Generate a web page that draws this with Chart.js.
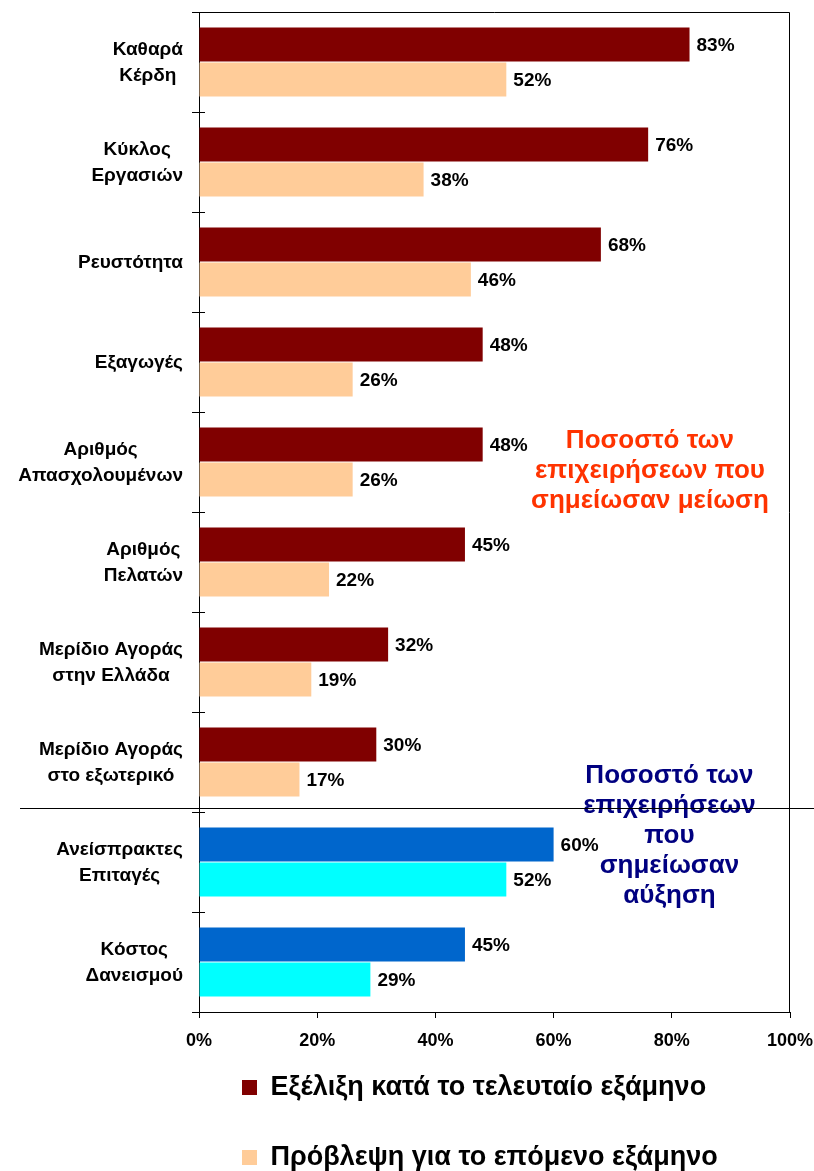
<!DOCTYPE html>
<html>
<head>
<meta charset="utf-8">
<script src="https://cdn.jsdelivr.net/npm/chart.js@4.4.1/dist/chart.umd.min.js"></script>
<style>
    html, body { margin: 0; padding: 0; background: #fff; overflow: hidden; }
    #wrap { width: 814px; height: 1171px; overflow: hidden; }
</style>
</head>
<body>
<div id="wrap"><canvas id="chart" width="814" height="1181"></canvas></div>
<script>
// chart data
const categories = [
    ['Καθαρά', 'Κέρδη'],
    ['Κύκλος', 'Εργασιών'],
    ['Ρευστότητα'],
    ['Εξαγωγές'],
    ['Αριθμός', 'Απασχολουμένων'],
    ['Αριθμός', 'Πελατών'],
    ['Μερίδιο Αγοράς', 'στην Ελλάδα'],
    ['Μερίδιο Αγοράς', 'στο εξωτερικό'],
    ['Ανείσπρακτες', 'Επιταγές'],
    ['Κόστος', 'Δανεισμού'],
];
const lastSemester = [83, 76, 68, 48, 48, 45, 32, 30, 60, 45];
const nextSemester = [52, 38, 46, 26, 26, 22, 19, 17, 52, 29];
const seriesNames = ['Εξέλιξη κατά το τελευταίο εξάμηνο', 'Πρόβλεψη για το επόμενο εξάμηνο'];
const tickValues = [0, 20, 40, 60, 80, 100];
const decreaseNote = ['Ποσοστό των', 'επιχειρήσεων που', 'σημείωσαν μείωση'];
const increaseNote = ['Ποσοστό των', 'επιχειρήσεων', 'που', 'σημείωσαν', 'αύξηση'];
const firstIncrease = 8; // categories from here on are "increase" rows

const FONT = "'Liberation Sans', Arial, sans-serif";

// value labels at the end of each bar
const barLabels = {
    id: 'barLabels',
    afterDatasetsDraw(chart) {
        const ctx = chart.ctx;
        ctx.save();
        ctx.font = `bold 19px ${FONT}`;
        ctx.fillStyle = '#000';
        ctx.textBaseline = 'middle';
        ctx.textAlign = 'left';
        chart.data.datasets.forEach((ds, i) => {
            chart.getDatasetMeta(i).data.forEach((bar, j) => {
                ctx.fillText(ds.data[j] + '%', bar.x + 7, bar.y + 1);
            });
        });
        ctx.restore();
    },
};

// axis labels, frame, notes and separator
const decorations = {
    id: 'decorations',
    afterDraw(chart) {
        const ctx = chart.ctx;
        const { left, right, top, bottom } = chart.chartArea;
        const x = chart.scales.x;
        const y = chart.scales.y;
        ctx.save();

        // category labels: lines centred inside a right-aligned block
        ctx.font = `bold 19px ${FONT}`;
        ctx.fillStyle = '#000';
        ctx.textBaseline = 'middle';
        ctx.textAlign = 'center';
        chart.data.labels.forEach((lines, i) => {
            const w = Math.max(...lines.map((l) => ctx.measureText(l).width));
            const cx = left - 16 - w / 2;
            const cy = y.getPixelForValue(i);
            lines.forEach((l, k) => {
                ctx.fillText(l, cx, cy + (k - (lines.length - 1) / 2) * 26 + 1);
            });
        });

        // percent labels under the x axis
        ctx.font = `bold 18px ${FONT}`;
        tickValues.forEach((v) => {
            ctx.fillText(v + '%', x.getPixelForValue(v), bottom + 29);
        });

        // top and right frame
        ctx.strokeStyle = '#000';
        ctx.lineWidth = 1;
        ctx.beginPath();
        ctx.moveTo(left, top + 0.5);
        ctx.lineTo(right - 0.5, top + 0.5);
        ctx.lineTo(right - 0.5, bottom);
        ctx.stroke();

        // inner half of the category tick marks
        ctx.beginPath();
        for (let i = 0; i <= categories.length; i++) {
            const ty = Math.round(top + (i * (bottom - top)) / categories.length) + 0.5;
            ctx.moveTo(left, ty);
            ctx.lineTo(left + 6, ty);
        }
        ctx.stroke();

        // notes
        ctx.font = `bold 26px ${FONT}`;
        ctx.textBaseline = 'alphabetic';
        ctx.fillStyle = '#FF3300';
        decreaseNote.forEach((l, k) => {
            ctx.fillText(l, x.getPixelForValue(76.3), y.getPixelForValue(4) - 14 + k * 30);
        });
        ctx.fillStyle = '#000080';
        increaseNote.forEach((l, k) => {
            ctx.fillText(l, x.getPixelForValue(79.6), y.getPixelForValue(7) + 21 + k * 30);
        });

        // separator between decrease and increase groups
        const sy = Math.round((y.getPixelForValue(firstIncrease - 1) + y.getPixelForValue(firstIncrease)) / 2) - 3.5;
        ctx.beginPath();
        ctx.moveTo(20, sy);
        ctx.lineTo(chart.width, sy);
        ctx.stroke();

        ctx.restore();
    },
};

const ctx = document.getElementById('chart').getContext('2d');
const chart = new Chart(ctx, {
    type: 'bar',
    data: {
        labels: categories,
        datasets: [
            {
                label: seriesNames[0],
                data: lastSemester,
                backgroundColor: (c) => (c.dataIndex >= firstIncrease ? '#0066CC' : '#800000'),
                borderWidth: 0,
            },
            {
                label: seriesNames[1],
                data: nextSemester,
                backgroundColor: (c) => (c.dataIndex >= firstIncrease ? '#00FFFF' : '#FFCC99'),
                borderWidth: 0,
            },
        ],
    },
    options: {
        indexAxis: 'y',
        responsive: false,
        devicePixelRatio: 1,
        animation: false,
        categoryPercentage: 0.7,
        barPercentage: 0.97,
        layout: {
            padding: { left: 192, right: 24, top: 12, bottom: 0 },
        },
        scales: {
            x: {
                min: 0,
                max: 100,
                afterBuildTicks: (scale) => {
                    scale.ticks = tickValues.map((v) => ({ value: v }));
                },
                afterFit: (scale) => {
                    scale.height = 19;
                },
                grid: {
                    drawOnChartArea: false,
                    color: '#000',
                    tickLength: 6,
                },
                border: { color: '#000', width: 1 },
                ticks: { display: false },
            },
            y: {
                afterFit: (scale) => {
                    scale.width = 7;
                },
                grid: {
                    drawOnChartArea: false,
                    color: '#000',
                    tickLength: 7,
                },
                border: { color: '#000', width: 1 },
                ticks: { display: false },
            },
        },
        plugins: {
            tooltip: { enabled: false },
            legend: {
                position: 'bottom',
                align: 'start',
                fullSize: false,
                labels: {
                    color: '#000',
                    boxWidth: 15,
                    boxHeight: 15,
                    padding: 43,
                    font: { family: FONT, size: 27, weight: 'bold' },
                },
            },
        },
    },
    plugins: [barLabels, decorations],
});
</script>
</body>
</html>
